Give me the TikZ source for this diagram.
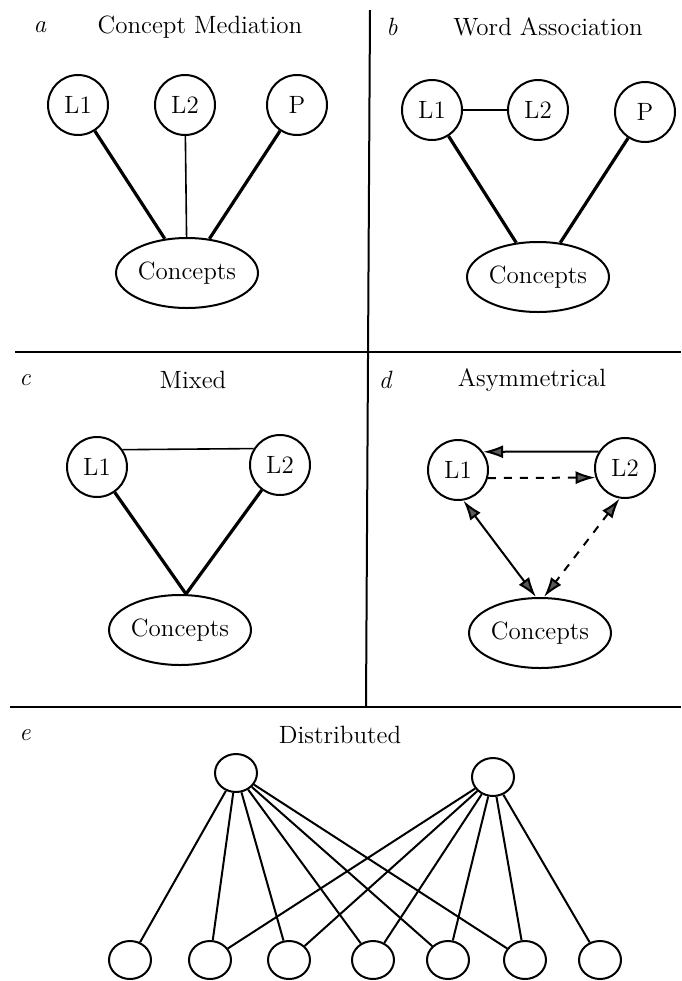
\documentclass[tikz,border=0pt]{standalone}
\usepackage{tikz}
\usetikzlibrary{shapes.geometric}
\usetikzlibrary{arrows.meta}
\usetikzlibrary{positioning}

\begin{document}
\begin{tikzpicture}[x=0.5pt,y=-0.5pt,
  font=\fontsize{12.5}{14}\selectfont,
  word/.style={draw,circle,line width=1pt,minimum size=30pt,inner sep=0pt},
  concept/.style={draw,ellipse,line width=1pt,minimum width=71pt,minimum height=35pt,inner sep=0pt},
  unit/.style={draw,ellipse,line width=1pt,minimum width=21pt,minimum height=19pt,inner sep=0pt},
  strong/.style={line width=1.6pt},
  weak/.style={line width=0.8pt},
  rule/.style={line width=1pt},
  tip/.style={-{Latex[length=10pt,width=6.5pt,fill=black!65]}},
  twotip/.style={{Latex[length=10pt,width=6.5pt,fill=black!65]}-{Latex[length=10pt,width=6.5pt,fill=black!65]}},
  broken/.style={dash pattern=on 4pt off 4pt},
  panel/.style={font=\fontsize{12.5}{14}\selectfont\itshape}]
\useasboundingbox (0,0) rectangle (681,981);
% dividers
\draw[rule] (370,10) -- (366,707);
\draw[rule] (15,352) -- (681,352);
\draw[rule] (10,707) -- (681,707);

% a: concept mediation
\node[panel] (ta) at (40,27) {a};
\node (Ta) at (200,27) {Concept Mediation};
\node[word] (aL1) at (78,105) {L1};
\node[word] (aL2) at (185,105) {L2};
\node[word] (aP)  at (297,105) {P};
\node[concept] (aC) at (187,273) {Concepts};
\draw[strong] (aL1) -- (aC);
\draw[weak]   (aL2) -- (aC);
\draw[strong] (aP) -- (aC);

% b: word association
\node[panel] (tb) at (392,27) {b};
\node (Tb) at (548,27) {Word Association};
\node[word] (bL1) at (432,110) {L1};
\node[word] (bL2) at (538,110) {L2};
\node[word] (bP)  at (645,112) {P};
\node[concept] (bC) at (538,277) {Concepts};
\draw[weak]   (bL1) -- (bL2);
\draw[strong] (bL1) -- (bC);
\draw[strong] (bP) -- (bC);

% c: mixed
\node[panel] (tc) at (25,380) {c};
\node (Tc) at (193,380) {Mixed};
\node[word] (cL1) at (97,467) {L1};
\node[word] (cL2) at (280,465) {L2};
\node[concept] (cC) at (180,630) {Concepts};
\draw[weak]   (cL1.34) -- (cL2.148);
\draw[strong] (cL1) -- ([xshift=3pt]cC.north);
\draw[strong] (cL2) -- ([xshift=3pt]cC.north);

% d: asymmetrical
\node[panel] (td) at (385,380) {d};
\node (Td) at (532,380) {Asymmetrical};
\node[word] (dL1) at (458,470) {L1};
\node[word] (dL2) at (625,468) {L2};
\node[concept] (dC) at (540,633) {Concepts};
\draw[rule,tip] (dL2.148) -- (dL1.36);
\draw[rule,broken,tip] (dL1.-15) -- (dL2.198);
\draw[rule,twotip] (dL1.-80) -- ([xshift=-2pt]dC.north);
\draw[rule,broken,twotip] (dL2.-100) -- ([xshift=2pt]dC.north);

% e: distributed
\node[panel] (te) at (25,735) {e};
\node (Te) at (340,735) {Distributed};
\node[unit] (t1) at (236,773) {};
\node[unit] (t2) at (493,777) {};
\foreach \n/\x in {1/130,2/210,3/289,4/373,5/448,6/525,7/600}
  \node[unit] (u\n) at (\x,960) {};
\foreach \n in {1,...,6}
  \draw[rule] (t1) -- (u\n);
\foreach \n in {2,...,7}
  \draw[rule] (t2) -- (u\n);
\end{tikzpicture}
\end{document}
